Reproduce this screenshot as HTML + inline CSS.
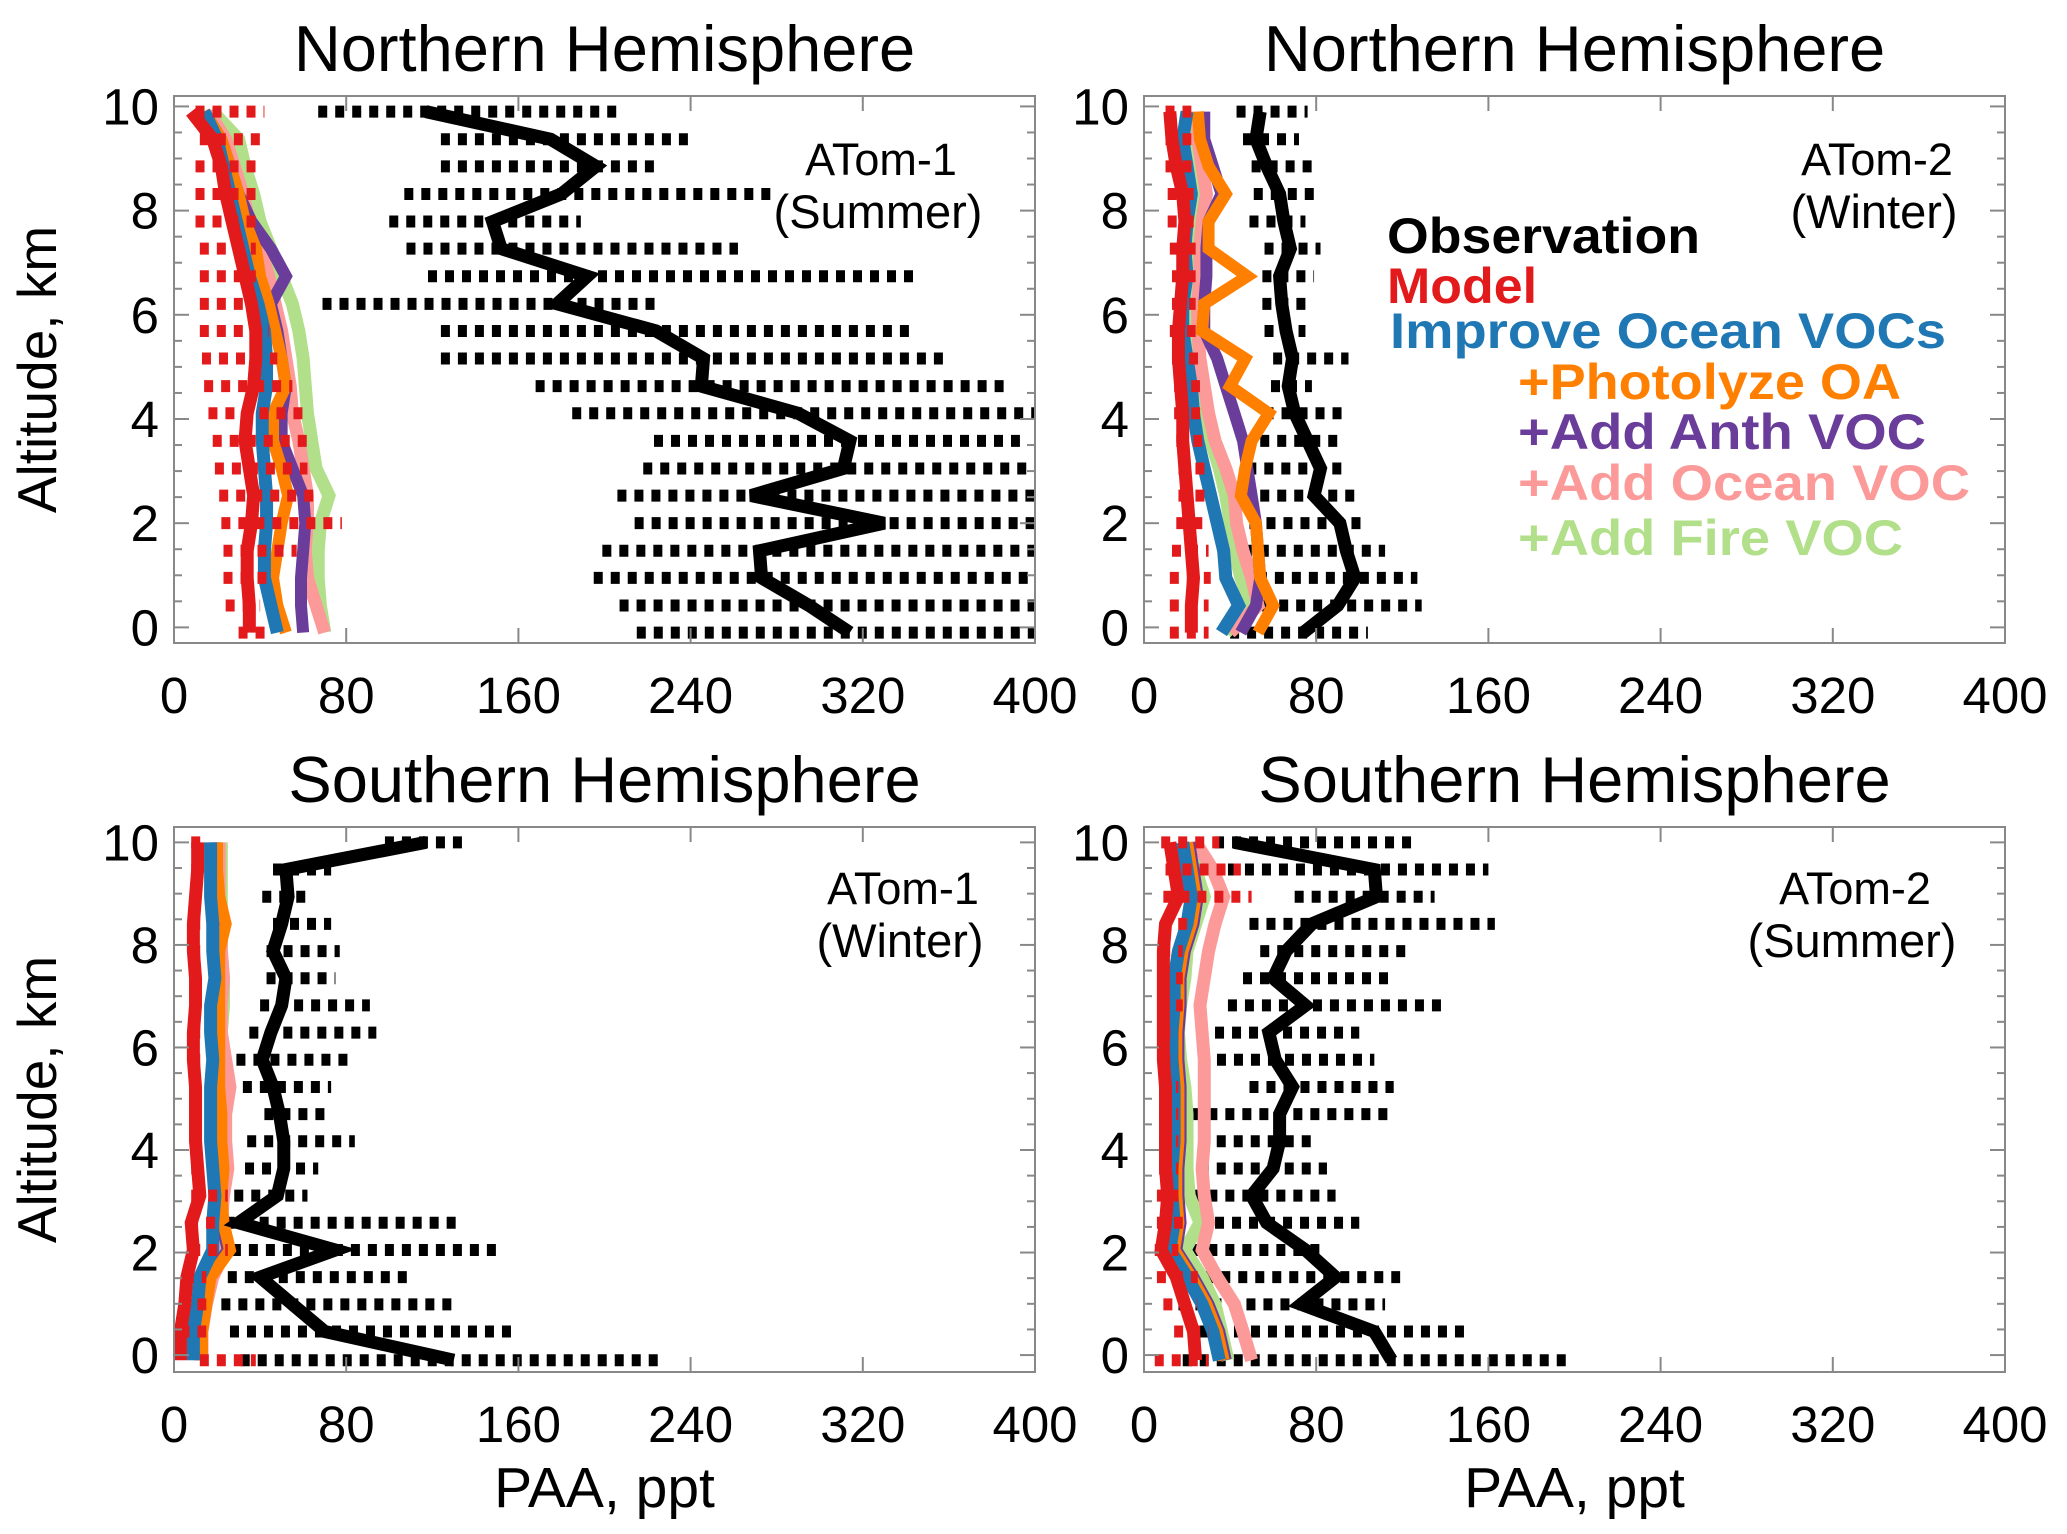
<!DOCTYPE html>
<html><head><meta charset="utf-8">
<style>
html,body{margin:0;padding:0;background:#fff;}
svg{display:block;font-family:"Liberation Sans",Arial,sans-serif;}
</style></head>
<body>
<svg id="fig" width="2067" height="1534" viewBox="0 0 2067 1534" xmlns="http://www.w3.org/2000/svg">
<rect width="2067" height="1534" fill="#fff"/>
<g id="root"></g>
</svg>
<script>
// ---- data ----
const altNorth = [9.9,9.37,8.85,8.32,7.79,7.27,6.74,6.21,5.69,5.16,4.63,4.11,3.58,3.05,2.53,2.0,1.47,0.95,0.42,-0.1];
const altSouth = [10.0,9.47,8.94,8.41,7.88,7.35,6.82,6.29,5.76,5.23,4.70,4.17,3.64,3.11,2.58,2.05,1.52,0.99,0.46,-0.1];
const xTicks = [0,80,160,240,320,400];
const yTicks = [0,2,4,6,8,10];

// NH ATom-1
const nh1Obs = [117,175,196,180,148,152,192,178,224,246,245,290,314,311,268,330,272,273,295,314];
const nh1ObsMin = [67,124,124,107,100,108,118,69,124,124,168,185,223,218,206,214,199,195,207,215];
const nh1ObsMax = [206,240,225,279,189,262,345,225,343,359,387,410,393,399,410,410,410,399,410,410];
const nh1Model = [8,18,22,24,27,30,33,36,38,38,37,34,33,35,37,36,34,34,35,35];
const nh1ModMin = [10,12,10,10,10,12,12,12,12,13,14,16,18,19,21,22,23,23,24,30];
const nh1ModMax = [42,40,38,38,38,38,38,36,44,48,55,60,62,62,66,78,57,44,40,43];
const nh1Ocean = [14,20,23,26,29,32,35,39,42,43,43,41,41,42,43,43,42,42,45,48];
const nh1Photo = [14,22,26,30,33,38,40,44,47,50,52,46,46,50,53,50,48,46,48,52];
const nh1Anth = [14,22,26,30,36,45,52,45,48,50,52,50,50,55,60,61,60,59,59,60];
const nh1OceanVoc = [16,24,28,32,35,40,44,47,50,52,54,55,58,60,62,62,61,62,66,70];
const nh1Fire = [18,30,33,37,40,45,50,55,58,60,61,62,64,66,72,68,67,67,68,70];

// NH ATom-2
const nh2Obs = [54,52,57,63,65,68,63,64,66,69,67,70,76,82,79,91,94,98,90,74];
const nh2ObsMin = [43,46,50,51,49,56,55,55,56,60,59,56,54,48,54,49,38,45,47,40];
const nh2ObsMax = [76,72,80,82,75,82,79,78,75,95,78,92,93,95,98,104,112,127,129,104];
const nh2Model = [12,13,15,18,19,18,18,17,16,16,17,18,18,19,20,21,22,23,22,22];
const nh2ModMin = [10,10,10,11,11,12,13,13,12,13,14,14,15,16,16,15,13,12,12,12];
const nh2ModMax = [22,22,24,25,25,24,24,24,24,26,26,27,28,29,30,30,30,31,30,30];
const nh2Ocean = [20,18,20,22,20,19,20,18,18,20,22,23,25,28,31,34,37,38,44,36];
const nh2Photo = [25,26,30,38,30,30,48,28,27,47,40,58,50,47,45,52,53,54,60,53];
const nh2Anth = [28,28,32,36,30,29,29,28,28,34,38,42,46,48,50,52,53,54,52,45];
const nh2OceanVoc = [25,25,27,29,27,26,26,25,25,26,28,30,33,38,42,43,46,50,53,40];
const nh2Fire = [24,24,26,27,25,24,23,22,22,24,26,28,31,35,38,40,42,45,50,38];

// SH ATom-1
const sh1Obs = [117,52,53,50,46,52,50,45,41,46,49,51,51,48,30,75,40,55,70,130];
const sh1ObsMin = [98,46,41,46,43,43,40,35,29,32,42,34,33,28,24,19,25,22,26,31];
const sh1ObsMax = [134,73,61,73,77,75,91,94,81,73,70,84,67,62,131,151,110,131,157,228];
const sh1Model = [11,11,10,9,9,10,10,9,9,10,10,10,11,12,8,9,6,5,3,3];
const sh1ModMin = [8,8,8,8,8,8,8,8,8,8,8,8,8,8,7,8,5,3,3,12];
const sh1ModMax = [13,13,13,13,13,13,13,13,13,13,13,13,14,25,20,25,15,15,15,38];
const sh1Ocean = [17,17,17,18,18,19,17,17,18,17,17,17,18,19,18,18,12,11,9,9];
const sh1Photo = [20,20,21,24,21,21,21,21,21,21,22,22,23,22,23,26,17,15,13,13];
const sh1Anth = [19,19,20,23,20,20,20,20,20,20,21,21,22,21,22,25,16,14,12,12];
const sh1OceanVoc = [21,21,21,22,22,23,22,22,24,26,24,24,25,23,22,24,18,15,13,13];
const sh1Fire = [22,22,22,22,22,23,23,22,22,21,22,23,24,22,21,23,17,15,13,13];

// SH ATom-2
const sh2Obs = [42,107,108,78,66,60,75,58,61,69,63,63,60,50,57,75,89,73,107,115];
const sh2ObsMin = [33,39,70,49,54,46,39,33,26,49,22,18,18,22,33,22,28,16,26,18];
const sh2ObsMax = [126,160,135,163,122,114,138,100,107,116,114,78,85,89,100,82,119,112,150,197];
const sh2Model = [12,14,16,10,9,9,9,9,9,10,10,10,10,11,10,8,15,19,23,24];
const sh2ModMin = [8,10,9,8,8,7,7,8,8,7,7,7,7,6,6,5,6,9,14,5];
const sh2ModMax = [35,45,50,20,18,18,18,16,16,16,16,16,16,16,18,16,25,25,30,30];
const sh2Ocean = [18,20,22,20,16,14,14,13,13,14,14,14,13,13,14,12,20,27,32,35];
const sh2Photo = [20,22,24,22,18,16,16,15,15,16,16,16,15,15,16,14,22,29,34,37];
const sh2Anth = [21,23,25,23,19,17,17,16,16,17,17,17,16,16,17,15,23,30,35,38];
const sh2OceanVoc = [24,32,37,33,30,28,26,27,28,28,28,28,27,28,30,27,34,42,46,50];
const sh2Fire = [22,24,28,24,20,19,17,16,17,19,20,20,20,21,26,19,27,33,36,39];

// ---- drawing ----
const NS = 'http://www.w3.org/2000/svg';
const root = document.getElementById('root');
const COL = {obs:'#000', model:'#e31a1c', ocean:'#1f78b4', photo:'#ff7f00', anth:'#6a3d9a', oceanVoc:'#fb9a99', fire:'#b2df8a'};
function mk(tag, parent){ const e=document.createElementNS(NS,tag); parent.appendChild(e); return e; }

function panel(id, box, yMin, yMax, alts, s, title, ann1, ann2, annX, annY, showXTitle){
  const g = mk('g', root);
  
  
  const xs = v => box.x0 + (v/400)*(box.x1-box.x0);
  const ys = a => box.y1 - (a-yMin)/(yMax-yMin)*(box.y1-box.y0);
  const clip = mk('clipPath', g); clip.setAttribute('id','clip-'+id);
  const cr = mk('rect', clip); cr.setAttribute('x',box.x0); cr.setAttribute('y',box.y0); cr.setAttribute('width',box.x1-box.x0); cr.setAttribute('height',box.y1-box.y0);
  const plot = mk('g', g); plot.setAttribute('clip-path','url(#clip-'+id+')');
  
  

  for(let i=0;i<alts.length;i++){
    const l = mk('line', plot);
    
    
    l.setAttribute('x1', xs(s.obsMin[i])); l.setAttribute('x2', xs(s.obsMax[i]));
    l.setAttribute('y1', ys(alts[i])); l.setAttribute('y2', ys(alts[i]));
    l.setAttribute('stroke','#000'); l.setAttribute('stroke-width','12'); l.setAttribute('stroke-dasharray','9 8');
  }
  function line(vals, col, w, name){
    const p = mk('polyline', plot);
    
    
    p.setAttribute('points', vals.map((v,i)=>xs(v)+','+ys(alts[i])).join(' '));
    p.setAttribute('fill','none'); p.setAttribute('stroke',col); p.setAttribute('stroke-width',w);
    p.setAttribute('stroke-linejoin','miter'); p.setAttribute('stroke-miterlimit','4');
  }
  line(s.fire, COL.fire, 13, 'add-fire-voc-line');
  line(s.oceanVoc, COL.oceanVoc, 13, 'add-ocean-voc-line');
  line(s.anth, COL.anth, 12, 'add-anth-voc-line');
  line(s.photo, COL.photo, 12, 'photolyze-oa-line');
  line(s.ocean, COL.ocean, 13, 'improve-ocean-vocs-line');
  line(s.model, COL.model, 13, 'model-line');
  for(let i=0;i<alts.length;i++){
    const l = mk('line', plot);
    
    
    l.setAttribute('x1', xs(s.modMin[i])); l.setAttribute('x2', xs(s.modMax[i]));
    l.setAttribute('y1', ys(alts[i])); l.setAttribute('y2', ys(alts[i]));
    l.setAttribute('stroke',COL.model); l.setAttribute('stroke-width','12'); l.setAttribute('stroke-dasharray','9 8');
  }
  line(s.obs, COL.obs, 13, 'observation-line');

  const fr = mk('rect', g);
  
  
  fr.setAttribute('x',box.x0); fr.setAttribute('y',box.y0); fr.setAttribute('width',box.x1-box.x0); fr.setAttribute('height',box.y1-box.y0);
  fr.setAttribute('fill','none'); fr.setAttribute('stroke','#888'); fr.setAttribute('stroke-width','2');
  for(let a=0;a<=10.001;a+=0.5){
    const major = Math.abs(a-Math.round(a/2)*2)<1e-6;
    const len = major?15:8;
    [[box.x0, box.x0+len],[box.x1, box.x1-len]].forEach(([a1,a2])=>{
      const t = mk('line', g);
       
      t.setAttribute('x1',a1); t.setAttribute('x2',a2); t.setAttribute('y1',ys(a)); t.setAttribute('y2',ys(a));
      t.setAttribute('stroke','#888'); t.setAttribute('stroke-width','2');
    });
  }
  yTicks.forEach(v=>{
    const t = mk('text', g);
     
    t.setAttribute('x', box.x0-15); t.setAttribute('y', ys(v)+18);
    t.setAttribute('text-anchor','end'); t.setAttribute('font-size','51');
    t.textContent = v;
  });
  xTicks.forEach(v=>{
    [[box.y1, box.y1-15],[box.y0, box.y0+15]].forEach(([b1,b2])=>{
      const t = mk('line', g);
       
      t.setAttribute('x1',xs(v)); t.setAttribute('x2',xs(v)); t.setAttribute('y1',b1); t.setAttribute('y2',b2);
      t.setAttribute('stroke','#888'); t.setAttribute('stroke-width','2');
    });
    const t = mk('text', g);
     
    t.setAttribute('x', xs(v)); t.setAttribute('y', box.y1+70);
    t.setAttribute('text-anchor','middle'); t.setAttribute('font-size','51');
    t.textContent = v;
  });
  const cx = (box.x0+box.x1)/2;
  const ti = mk('text', g);
   
  ti.setAttribute('x', cx); ti.setAttribute('y', box.y0-25); ti.setAttribute('text-anchor','middle'); ti.setAttribute('font-size','65');
  ti.textContent = title;
  const a1 = mk('text', g);
   
  a1.setAttribute('x', annX); a1.setAttribute('y', annY); a1.setAttribute('text-anchor','middle'); a1.setAttribute('font-size','45');
  a1.textContent = ann1;
  const a2 = mk('text', g);
   
  a2.setAttribute('x', annX-3); a2.setAttribute('y', annY+53); a2.setAttribute('text-anchor','middle'); a2.setAttribute('font-size','47');
  a2.textContent = ann2;
  if(showXTitle){
    const xt = mk('text', g);
     
    xt.setAttribute('x', cx); xt.setAttribute('y', 1507); xt.setAttribute('text-anchor','middle'); xt.setAttribute('font-size','57');
    xt.textContent = 'PAA, ppt';
  }
  if(box.x0 < 500){
    const yt = mk('text', g);
     
    const cy = (box.y0+box.y1)/2;
    yt.setAttribute('transform','translate(56,'+cy+') rotate(-90)');
    yt.setAttribute('text-anchor','middle'); yt.setAttribute('font-size','55');
    yt.textContent = 'Altitude, km';
  }
}

panel('nh-atom1', {x0:174,x1:1035,y0:96,y1:643}, -0.3, 10.2, altNorth,
  {obs:nh1Obs,obsMin:nh1ObsMin,obsMax:nh1ObsMax,model:nh1Model,modMin:nh1ModMin,modMax:nh1ModMax,ocean:nh1Ocean,photo:nh1Photo,anth:nh1Anth,oceanVoc:nh1OceanVoc,fire:nh1Fire},
  'Northern Hemisphere','ATom-1','(Summer)', 881, 175, false);
panel('nh-atom2', {x0:1144,x1:2005,y0:96,y1:643}, -0.3, 10.2, altNorth,
  {obs:nh2Obs,obsMin:nh2ObsMin,obsMax:nh2ObsMax,model:nh2Model,modMin:nh2ModMin,modMax:nh2ModMax,ocean:nh2Ocean,photo:nh2Photo,anth:nh2Anth,oceanVoc:nh2OceanVoc,fire:nh2Fire},
  'Northern Hemisphere','ATom-2','(Winter)', 1877, 175, false);
panel('sh-atom1', {x0:174,x1:1035,y0:827,y1:1372}, -0.33, 10.3, altSouth,
  {obs:sh1Obs,obsMin:sh1ObsMin,obsMax:sh1ObsMax,model:sh1Model,modMin:sh1ModMin,modMax:sh1ModMax,ocean:sh1Ocean,photo:sh1Photo,anth:sh1Anth,oceanVoc:sh1OceanVoc,fire:sh1Fire},
  'Southern Hemisphere','ATom-1','(Winter)', 903, 904, true);
panel('sh-atom2', {x0:1144,x1:2005,y0:827,y1:1372}, -0.33, 10.3, altSouth,
  {obs:sh2Obs,obsMin:sh2ObsMin,obsMax:sh2ObsMax,model:sh2Model,modMin:sh2ModMin,modMax:sh2ModMax,ocean:sh2Ocean,photo:sh2Photo,anth:sh2Anth,oceanVoc:sh2OceanVoc,fire:sh2Fire},
  'Southern Hemisphere','ATom-2','(Summer)', 1855, 904, true);
</script>
<div style="position:absolute;left:0;top:0;width:2067px;height:1534px;pointer-events:none">
<svg width="2067" height="1534" style="font-family:'Liberation Sans',Arial,sans-serif;font-weight:bold">
<text x="1387" y="253" font-size="50" fill="#000" textLength="313" lengthAdjust="spacingAndGlyphs">Observation</text>
<text x="1387" y="303" font-size="50" fill="#e31a1c" textLength="150" lengthAdjust="spacingAndGlyphs">Model</text>
<text x="1390" y="348" font-size="50" fill="#1f78b4" textLength="556" lengthAdjust="spacingAndGlyphs">Improve Ocean VOCs</text>
<text x="1518" y="399" font-size="50" fill="#ff7f00" textLength="383" lengthAdjust="spacingAndGlyphs">+Photolyze OA</text>
<text x="1518" y="449" font-size="50" fill="#6a3d9a" textLength="408" lengthAdjust="spacingAndGlyphs">+Add Anth VOC</text>
<text x="1518" y="500" font-size="50" fill="#fb9a99" textLength="452" lengthAdjust="spacingAndGlyphs">+Add Ocean VOC</text>
<text x="1518" y="555" font-size="50" fill="#b2df8a" textLength="385" lengthAdjust="spacingAndGlyphs">+Add Fire VOC</text>
</svg>
</div>
</body></html>
